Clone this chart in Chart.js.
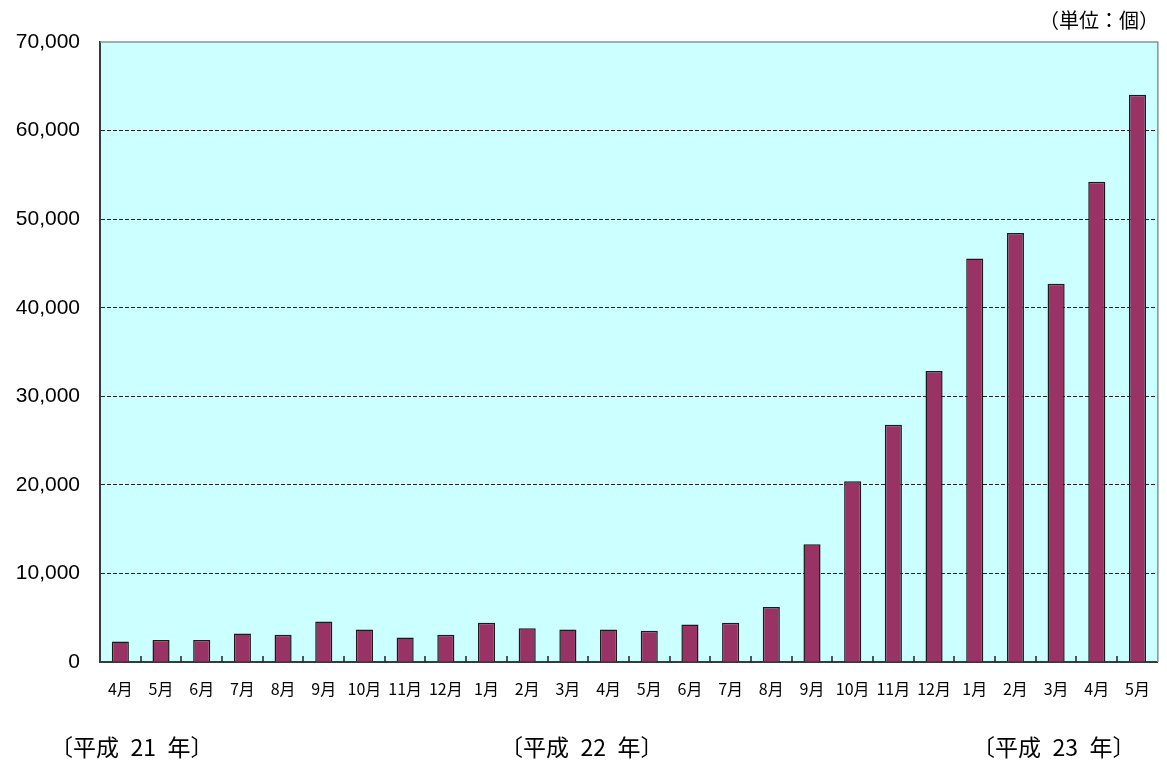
<!DOCTYPE html>
<html lang="ja">
<head>
<meta charset="utf-8">
<script src="https://cdn.jsdelivr.net/npm/chart.js@4"></script>
<style>
  html, body { margin: 0; padding: 0; background: #fff; }
  #wrap { position: relative; width: 1167px; height: 761px; }
  .lbl { position: absolute; font-family: "Noto Sans CJK JP", sans-serif; color: #000; white-space: pre; }
  #unit { right: 8px; top: 5px; font-size: 20px; }
  .year { top: 731px; font-size: 23px; line-height: 30px; }
</style>
</head>
<body>
<div id="wrap">
  <canvas id="grafica" width="1167" height="761"></canvas>
  <div id="unit" class="lbl">（単位：個）</div>
  <div class="lbl year" style="left:50px">〔平成&#8194;21&#8194;年〕</div>
  <div class="lbl year" style="left:500px">〔平成&#8194;22&#8194;年〕</div>
  <div class="lbl year" style="left:972px">〔平成&#8194;23&#8194;年〕</div>
</div>
<script>
// meses (平成21年4月 〜 平成23年5月)
const meses = [
  "4月", "5月", "6月", "7月", "8月", "9月", "10月", "11月", "12月",
  "1月", "2月", "3月", "4月", "5月", "6月", "7月", "8月", "9月", "10月", "11月", "12月",
  "1月", "2月", "3月", "4月", "5月"
];

// valores (個)
const cantidades = [
  2320, 2470, 2470, 3220, 3070, 4570, 3670, 2770, 3070,
  4420, 3820, 3670, 3670, 3520, 4230, 4420, 6220, 13300, 20410, 26800, 32860,
  45570, 48440, 42710, 54230, 64040
];

// marcas del eje Y
const yMin = 0;
const yMax = 70000;
const yPaso = 10000;

// fondo del área de trazado + borde + marcas hacia dentro
const fondoPlot = {
  id: "fondoPlot",
  beforeDraw(chart) {
    const { ctx, chartArea: a } = chart;
    ctx.save();
    ctx.fillStyle = "#CCFFFF";
    ctx.fillRect(a.left, a.top, a.right - a.left, a.bottom - a.top);
    ctx.restore();
  },
  afterDatasetsDraw(chart) {
    const { ctx, chartArea: a } = chart;
    const x = chart.scales.x;
    ctx.save();
    // borde superior y derecho
    ctx.strokeStyle = "#7F9696";
    ctx.lineWidth = 1.5;
    ctx.beginPath();
    ctx.moveTo(a.left, a.top);
    ctx.lineTo(a.right, a.top);
    ctx.lineTo(a.right, a.bottom);
    ctx.stroke();
    // marcas entre categorías
    ctx.strokeStyle = "#222";
    ctx.lineWidth = 1.5;
    ctx.beginPath();
    for (let i = 1; i < meses.length; i++) {
      const px = Math.round((x.getPixelForValue(i - 1) + x.getPixelForValue(i)) / 2);
      ctx.moveTo(px, a.bottom);
      ctx.lineTo(px, a.bottom - 6);
    }
    ctx.stroke();
    ctx.restore();
  }
};

new Chart(document.getElementById("grafica").getContext("2d"), {
  type: "bar",
  data: {
    labels: meses,
    datasets: [
      {
        label: "個数",
        data: cantidades,
        backgroundColor: "#993366",
        borderColor: "#1a1a1a",
        borderWidth: 1.5,
        barPercentage: 0.42,
        categoryPercentage: 1.0,
      },
    ],
  },
  options: {
    responsive: false,
    animation: false,
    layout: { padding: { top: 42, right: 4, bottom: 49, left: 0 } },
    plugins: {
      legend: { display: false },
      tooltip: { enabled: false },
    },
    scales: {
      x: {
        afterFit: (s) => { s.height = 50; },
        grid: { display: false, drawTicks: false },
        border: { display: true, color: "#3a3a3a", width: 2 },
        ticks: {
          autoSkip: false,
          maxRotation: 0,
          padding: 17,
          color: "#000",
          font: { family: "Noto Sans CJK JP", size: 16 },
        },
      },
      y: {
        min: yMin,
        max: yMax,
        afterFit: (s) => { s.width = 100; },
        grid: {
          color: (c) => (c.tick.value === 0 || c.tick.value === yMax ? "rgba(0,0,0,0)" : "#222"),
          lineWidth: 1,
          drawTicks: false,
        },
        // en v4 border.dash se aplica a las líneas de la cuadrícula
        border: { display: true, color: "#3a3a3a", width: 2, dash: [4, 2] },
        ticks: {
          stepSize: yPaso,
          padding: 20,
          color: "#000",
          font: { family: "Liberation Sans", size: 21 },
          callback: (v) => v.toLocaleString("en-US"),
        },
      },
    },
  },
  plugins: [fondoPlot],
});
</script>
</body>
</html>
